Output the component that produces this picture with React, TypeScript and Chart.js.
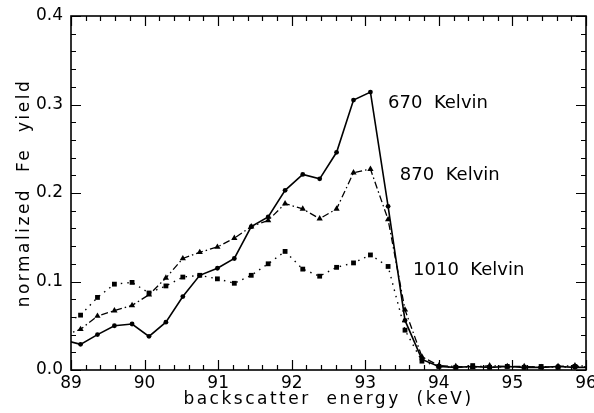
import { useEffect, useRef } from "react";
import { Chart, registerables } from "chart.js";

Chart.register(...registerables);

// Backscatter energy channels (keV)
const energyKeV = [
  88.9, 89.13, 89.36, 89.59, 89.83, 90.06, 90.29, 90.52, 90.75, 90.99, 91.22,
  91.45, 91.68, 91.91, 92.15, 92.38, 92.61, 92.84, 93.07, 93.31, 93.54, 93.77,
  94.0, 94.23, 94.46, 94.69, 94.93, 95.16, 95.39, 95.62, 95.85, 96.08,
];

// Normalized Fe yield per anneal temperature
const yield670K = [
  0.034, 0.029, 0.04, 0.05, 0.052, 0.038, 0.054, 0.083, 0.107, 0.115, 0.126,
  0.162, 0.173, 0.203, 0.221, 0.216, 0.246, 0.305, 0.314, 0.185, 0.056, 0.012,
  0.004, 0.003, 0.004, 0.003, 0.004, 0.003, 0.003, 0.004, 0.003, 0.003,
];
const yield870K = [
  0.039, 0.046, 0.061, 0.067, 0.073, 0.085, 0.104, 0.126, 0.133, 0.139, 0.149,
  0.162, 0.169, 0.188, 0.182, 0.171, 0.182, 0.223, 0.227, 0.17, 0.068, 0.015,
  0.005, 0.004, 0.003, 0.005, 0.004, 0.004, 0.003, 0.004, 0.005, 0.004,
];
const yield1010K = [
  0.052, 0.062, 0.082, 0.097, 0.099, 0.087, 0.095, 0.105, 0.107, 0.103, 0.098,
  0.107, 0.12, 0.134, 0.114, 0.106, 0.116, 0.121, 0.13, 0.117, 0.045, 0.01,
  0.004, 0.003, 0.005, 0.003, 0.004, 0.003, 0.004, 0.003, 0.004, 0.003,
];

const seriesNames = ["670  Kelvin", "870  Kelvin", "1010  Kelvin"];
const xTitle = "backscatter  energy  (keV)";
const yTitle = "normalized  Fe  yield";

const X_MIN = 89;
const X_MAX = 96;
const Y_MIN = 0;
const Y_MAX = 0.4;

const FONT = "'DejaVu Sans', sans-serif";

// Where each curve's name sits, in data units (left edge, vertical centre)
const nameAnchors = [
  { x: 93.31, y: 0.301 },
  { x: 93.47, y: 0.22 },
  { x: 93.65, y: 0.113 },
];

const toPoints = (vals: number[]) =>
  vals.map((v, i) => ({ x: energyKeV[i], y: v }));

// Boxed frame with inward ticks on all four sides, curve names and axis titles
const framePlugin = {
  id: "frameTicks",
  afterDatasetsDraw(chart: any) {
    const { ctx, chartArea: a, scales } = chart;
    const xs = scales.x;
    const ys = scales.y;
    ctx.save();
    ctx.strokeStyle = "#000";
    ctx.lineWidth = 1.6;
    ctx.strokeRect(a.left, a.top, a.right - a.left, a.bottom - a.top);
    ctx.lineWidth = 1.2;
    ctx.beginPath();
    for (let i = 0; i <= (X_MAX - X_MIN) * 5; i++) {
      const v = X_MIN + i * 0.2;
      const px = Math.round(xs.getPixelForValue(v)) + 0.5;
      const len = i % 5 === 0 ? 10 : 5;
      ctx.moveTo(px, a.bottom);
      ctx.lineTo(px, a.bottom - len);
      ctx.moveTo(px, a.top);
      ctx.lineTo(px, a.top + len);
    }
    for (let j = 0; j <= (Y_MAX - Y_MIN) * 50 + 0.5; j++) {
      const v = Y_MIN + j * 0.02;
      const py = Math.round(ys.getPixelForValue(v)) + 0.5;
      const len = j % 5 === 0 ? 10 : 5;
      ctx.moveTo(a.left, py);
      ctx.lineTo(a.left + len, py);
      ctx.moveTo(a.right, py);
      ctx.lineTo(a.right - len, py);
    }
    ctx.stroke();

    ctx.fillStyle = "#000";
    ctx.font = `18px ${FONT}`;
    ctx.textAlign = "left";
    ctx.textBaseline = "middle";
    seriesNames.forEach((name, k) => {
      const p = nameAnchors[k];
      ctx.fillText(name, xs.getPixelForValue(p.x), ys.getPixelForValue(p.y));
    });

    // Axis titles, letter-spaced
    ctx.font = `17px ${FONT}`;
    (ctx as any).letterSpacing = "2.5px";
    ctx.textAlign = "center";
    ctx.textBaseline = "alphabetic";
    ctx.fillText(xTitle, (a.left + a.right) / 2, a.bottom + 34);
    ctx.translate(29, (a.top + a.bottom) / 2);
    ctx.rotate(-Math.PI / 2);
    ctx.fillText(yTitle, 0, 0);
    ctx.restore();
  },
};

export default function App() {
  const canvasRef = useRef<HTMLCanvasElement | null>(null);

  useEffect(() => {
    const canvas = canvasRef.current;
    if (!canvas) return;
    const chart = new Chart(canvas, {
      type: "line",
      data: {
        datasets: [
          {
            label: seriesNames[0],
            data: toPoints(yield670K),
            borderColor: "#000",
            backgroundColor: "#000",
            borderWidth: 1.6,
            pointStyle: "circle",
            pointRadius: 2.4,
            pointBorderWidth: 0,
            tension: 0,
          },
          {
            label: seriesNames[1],
            data: toPoints(yield870K),
            borderColor: "#000",
            backgroundColor: "#000",
            borderWidth: 1.3,
            borderDash: [7, 3, 1.5, 3],
            pointStyle: "triangle",
            pointRadius: 3.6,
            pointBorderWidth: 0,
            tension: 0,
          },
          {
            label: seriesNames[2],
            data: toPoints(yield1010K),
            borderColor: "#000",
            backgroundColor: "#000",
            borderWidth: 1.4,
            borderDash: [1.5, 5],
            pointStyle: "rect",
            pointRadius: 3.4,
            pointBorderWidth: 0,
            tension: 0,
          },
        ],
      },
      options: {
        animation: false,
        responsive: false,
        devicePixelRatio: 1,
        layout: { padding: { top: 16, right: 8, left: 0, bottom: 0 } },
        plugins: {
          legend: { display: false },
          tooltip: { enabled: false },
        },
        scales: {
          x: {
            type: "linear",
            min: X_MIN,
            max: X_MAX,
            grid: { display: false, drawTicks: false },
            border: { display: false },
            ticks: {
              stepSize: 1,
              padding: 3,
              color: "#000",
              font: { family: FONT, size: 17 },
              callback: (v: any) => String(v),
            },
            afterFit: (s: any) => {
              s.height = 43;
              s.paddingLeft = 0;
              s.paddingRight = 0;
            },
          },
          y: {
            min: Y_MIN,
            max: Y_MAX,
            grid: { display: false, drawTicks: false },
            border: { display: false },
            ticks: {
              stepSize: 0.1,
              padding: 8,
              color: "#000",
              font: { family: FONT, size: 17 },
              callback: (v: any) => Number(v).toFixed(1),
            },
            afterFit: (s: any) => {
              s.width = 71;
              s.paddingTop = 0;
              s.paddingBottom = 0;
            },
          },
        },
      },
      plugins: [framePlugin],
    });
    return () => chart.destroy();
  }, []);

  return (
    <div
      style={{
        position: "fixed",
        left: 0,
        top: 0,
        width: 594,
        height: 413,
        background: "#fff",
      }}
    >
      <canvas ref={canvasRef} width={594} height={413} />
    </div>
  );
}
